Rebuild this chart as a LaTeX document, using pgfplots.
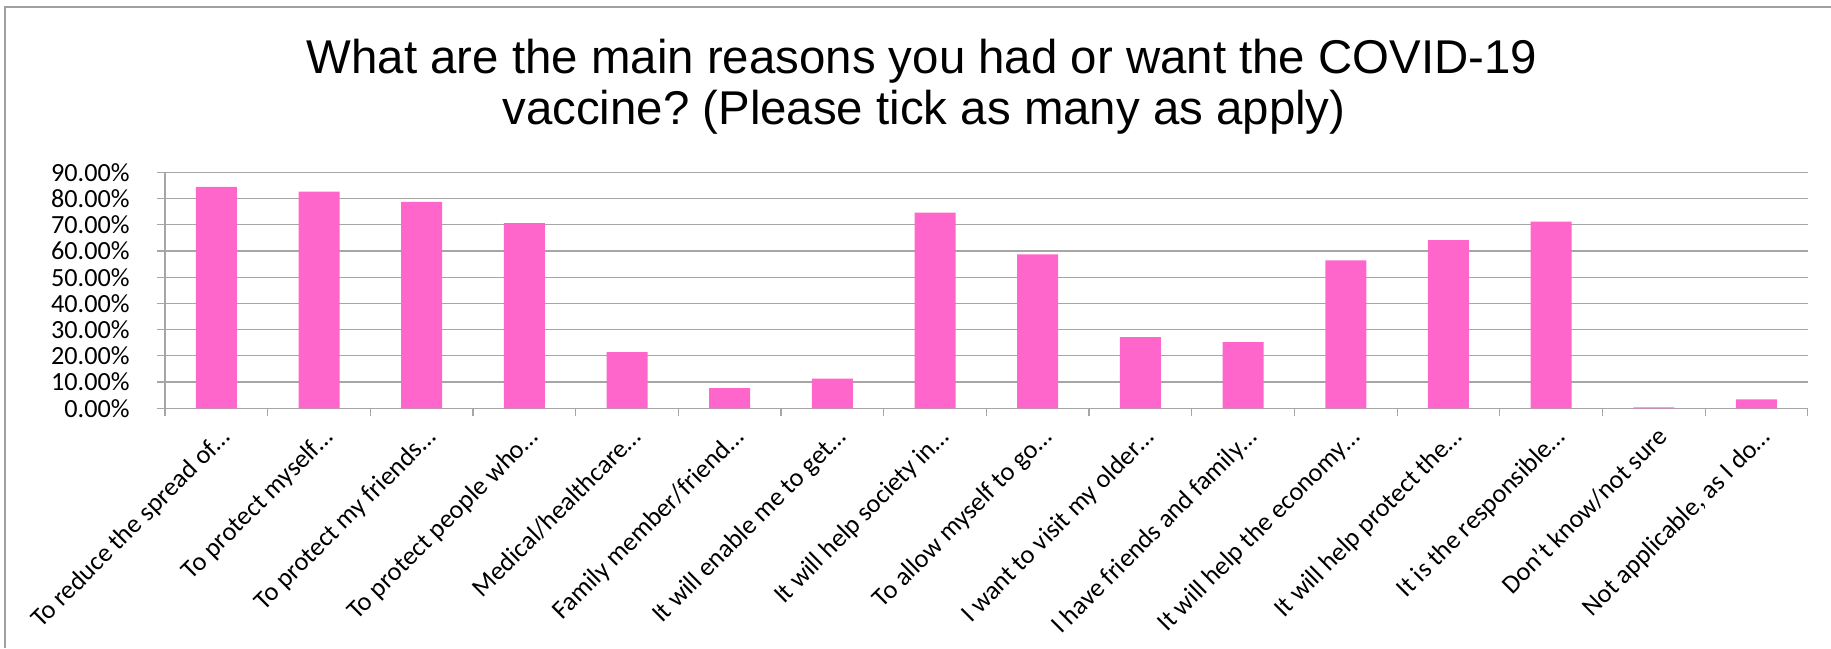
\documentclass[border=0pt]{standalone}
\usepackage{fontspec}
\setmainfont{Carlito}
\newfontfamily\titlefont{Liberation Sans}
\usepackage{pgfplots}
\pgfplotsset{compat=1.18}
\definecolor{barpink}{RGB}{255,102,204}
\definecolor{gridgray}{RGB}{166,166,166}
\definecolor{framegray}{RGB}{160,160,160}
\frenchspacing
\begin{document}
\begin{tikzpicture}
\useasboundingbox (0,0) rectangle (915.5pt,324pt);
\draw[framegray, line width=0.8pt] (2.5pt,0) -- (2.5pt,320.5pt) -- (915.5pt,320.5pt);
\node[font=\titlefont\fontsize{23.7}{25.5}\selectfont, anchor=base, inner sep=0pt] at (461pt,287pt) {What are the main reasons you had or want the COVID-19};
\node[font=\titlefont\fontsize{23.7}{25.5}\selectfont, anchor=base, inner sep=0pt] at (462pt,261.5pt) {vaccine? (Please tick as many as apply)};
\begin{axis}[
  at={(82.5pt,119.85pt)}, anchor=south west,
  scale only axis, width=821.4pt, height=118pt,
  xmin=-0.5, xmax=15.5, ymin=0, ymax=90,
  axis lines=left,
  axis line style={-, gridgray, line width=0.6pt},
  ybar, bar width=20.5pt,
  ymajorgrids, grid style={gridgray, line width=0.6pt},
  ytick={0,10,...,90},
  yticklabel={\pgfmathprintnumber[fixed,fixed zerofill,precision=2]{\tick}\%},
  /pgf/number format/assume math mode=true,
  tick align=outside, major tick length=4pt, minor tick length=4pt,
  ytick style={gridgray, line width=0.6pt},
  major x tick style={draw=none},
  minor x tick style={gridgray, line width=0.6pt},
  xtick={0,...,15},
  minor xtick={-0.5,0.5,...,15.5},
  xticklabels={
    To reduce the spread of…,
    To protect myself…,
    To protect my friends…,
    To protect people who…,
    Medical/healthcare…,
    Family member/friend…,
    It will enable me to get…,
    It will help society in…,
    To allow myself to go…,
    I want to visit my older…,
    I have friends and family…,
    It will help the economy…,
    It will help protect the…,
    It is the responsible…,
    Don’t know/not sure,
    {Not applicable, as I do…}},
  yticklabel style={font=\fontsize{13.1}{14}\selectfont, anchor=east, inner sep=0pt, xshift=-13.5pt},
  xticklabel style={font=\fontsize{13.1}{14}\selectfont, inner sep=0pt, xshift=7.75pt, yshift=-11pt, rotate=45, anchor=base east},
]
\addplot[fill=barpink, draw=none] coordinates {
  (0,84.4) (1,82.6) (2,78.7) (3,70.6) (4,21.4) (5,7.7) (6,11.3) (7,74.6)
  (8,58.7) (9,27.1) (10,25.2) (11,56.4) (12,64.1) (13,71.2) (14,0.4) (15,3.4)
};
\end{axis}
\end{tikzpicture}
\end{document}
